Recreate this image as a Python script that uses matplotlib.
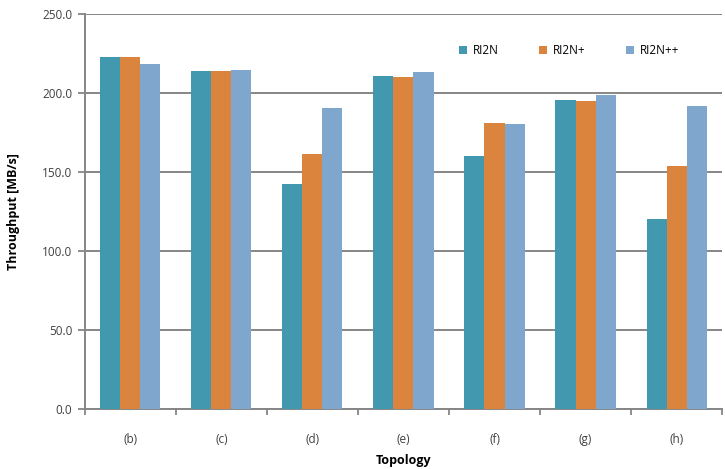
import numpy as np
import matplotlib.pyplot as plt

plt.rcParams['font.family'] = ['Open Sans', 'DejaVu Sans']

# data
topologies = ['(b)', '(c)', '(d)', '(e)', '(f)', '(g)', '(h)']
ri2n = [223.0, 214.0, 142.5, 210.8, 160.2, 195.6, 120.2]
ri2n_p = [223.0, 214.0, 161.5, 210.2, 181.3, 195.0, 153.8]
ri2n_pp = [218.4, 214.3, 190.8, 213.3, 180.1, 198.8, 192.0]
series_names = ['RI2N', 'RI2N+', 'RI2N++']
colors = ['#4198AF', '#DB843D', '#7FA7CE']

fig = plt.figure(figsize=(7.25, 4.69), dpi=100)
ax = fig.add_axes([0.117, 0.128, 0.879, 0.842])

x = np.arange(len(topologies))
w = 0.22
for i, (vals, name) in enumerate(zip([ri2n, ri2n_p, ri2n_pp], series_names)):
    ax.bar(x + (i - 1) * w, vals, width=w, color=colors[i], label=name, zorder=3)

ax.set_xlim(-0.5, len(topologies) - 0.5)
ax.set_ylim(0, 250)
ax.set_yticks(np.arange(0, 251, 50))
ax.set_yticklabels(['%.1f' % v for v in np.arange(0, 251, 50)], fontsize=8.5, color='#404040')
ax.set_xticks(x)
ax.set_xticklabels(topologies, fontsize=8.5, color='#404040')
ax.set_xticks(np.arange(-0.5, len(topologies), 1), minor=True)
ax.tick_params(axis='x', which='major', length=0, pad=17)
ax.tick_params(axis='x', which='minor', length=4, color='#868686', width=1.3, direction='out')
ax.tick_params(axis='y', length=5, color='#868686', width=1.3, direction='out', pad=4)

ax.grid(axis='y', color='#868686', linewidth=1.4, zorder=0)
for s in ['top', 'right']:
    ax.spines[s].set_visible(False)
for s in ['left', 'bottom']:
    ax.spines[s].set_color('#868686')
    ax.spines[s].set_linewidth(1.4)

ax.set_ylabel('Throughput [MB/s]', fontsize=9, fontweight='bold', labelpad=16)
ax.set_xlabel('Topology', fontsize=9, fontweight='bold', labelpad=6)

ax.legend(loc='upper right', bbox_to_anchor=(0.95, 0.95), ncol=3, frameon=False,
          fontsize=8.5, handlelength=0.7, handleheight=0.7, columnspacing=3.4,
          handletextpad=0.5)

fig.savefig('out.png')
